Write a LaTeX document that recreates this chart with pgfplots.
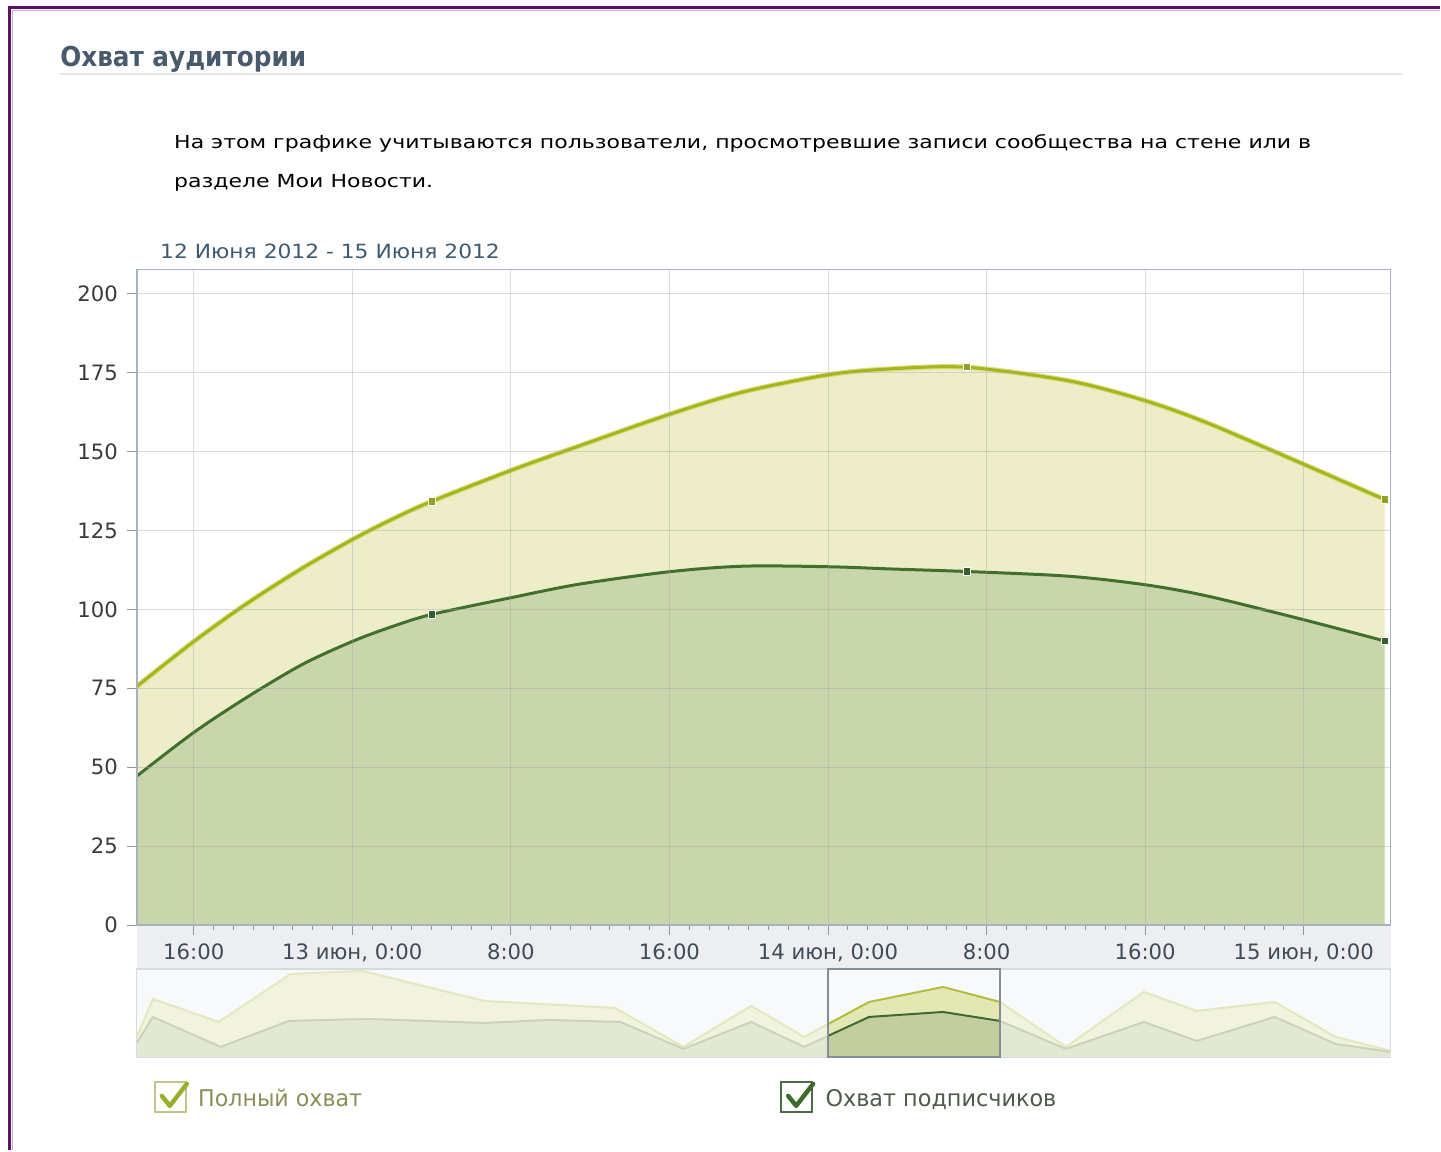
\documentclass[border=0pt]{standalone}
\usepackage{pgfplots}
\pgfplotsset{compat=1.18}
\usepackage{pgfplotstable}
\usepackage{graphicx}
\usepackage{fontspec}
\setmainfont{DejaVu Sans}

\definecolor{uline}{HTML}{A5B51F}
\definecolor{uglow}{HTML}{D9E07A}
\definecolor{ufill}{HTML}{EDEEC9}
\definecolor{lline}{HTML}{41702D}
\definecolor{lfill}{HTML}{C9D5AA}
\definecolor{umark}{HTML}{8FA224}
\definecolor{lmark}{HTML}{35602A}
\definecolor{axisc}{HTML}{A6B2BE}
\definecolor{tickc}{HTML}{8E969E}
\definecolor{ylab}{HTML}{3A3A3A}
\definecolor{xlab}{HTML}{3F4B57}
\definecolor{band}{HTML}{ECEEF1}
\definecolor{navbg}{HTML}{F8F9FA}
\definecolor{navbd}{HTML}{D6DBE0}
\definecolor{nuf}{HTML}{F1F3DE}
\definecolor{nul}{HTML}{E4E8BE}
\definecolor{nlf}{HTML}{E3E8D5}
\definecolor{nll}{HTML}{CBD4B9}
\definecolor{suf}{HTML}{E3E7B4}
\definecolor{sul}{HTML}{B0BE3F}
\definecolor{slf}{HTML}{C2CE9F}
\definecolor{sll}{HTML}{3F6A2D}
\definecolor{selbd}{HTML}{858E97}
\definecolor{titlec}{HTML}{485A6C}
\definecolor{datec}{HTML}{3E5B73}
\definecolor{purp}{HTML}{5C1363}
\definecolor{purpl}{HTML}{C9A9CD}
\definecolor{rule}{HTML}{E3E6E9}
\definecolor{leg1}{HTML}{8C8E5A}
\definecolor{leg2}{HTML}{4F5A4A}
\definecolor{box1}{HTML}{C3C48C}
\definecolor{chk1}{HTML}{9AAE2C}
\definecolor{box2}{HTML}{4D6B48}
\definecolor{chk2}{HTML}{3E6B2B}

\pgfplotstableread{
h u l
13.13 75.6 47.2
16 89.8 61.0
18.67 101.8 72.1
21.49 113.1 82.6
24.06 122.3 90.0
26.03 128.6 94.6
28 134.2 98.4
32.08 144.2 103.8
35.46 151.8 108.0
40.1 162.0 112.0
43.8 169.0 113.7
48.1 174.4 113.5
51.2 176.2 112.8
55 176.7 112.0
60.15 172.4 110.5
64 166.1 107.8
67.16 159.0 104.2
71.95 146.1 96.8
76.08 134.8 90.0
}\maindata

\pgfplotstableread{
x y
0 20
16 58
82 35
154 83
226 86
348 56
479 49
547 10
615 51
668 20
733 55
807 70
864 55
930 10
1008 65
1061 46
1139 55
1200 20
1255 6
}\navu

\pgfplotstableread{
x y
0 14
16 40
84 10
152 36
230 38
348 34
412 37
484 35
547 8
615 35
668 10
733 40
807 45
864 36
930 8
1008 35
1061 16
1139 40
1200 13
1255 5
}\navl

\newsavebox\descA
\newsavebox\descB
\newlength\dl

\begin{document}%
\sbox\descA{\fontsize{9}{11}\selectfont На этом графике учитываются пользователи, просмотревшие записи сообщества на стене или в}%
\sbox\descB{\fontsize{9}{11}\selectfont разделе Мои Новости.}%
\setlength\dl{\wd\descA}%
\pgfmathsetmacro\dr{569pt/\dl}%
\begin{tikzpicture}
\begin{scope}[x=0.5pt,y=-0.5pt]
  \path[fill=white] (0,0) rectangle (1441,1151);
  % frame
  \draw[line width=1.5pt, purp] (10,1151) -- (10,8) -- (1441,8);
  \draw[line width=0.5pt, purpl] (12.5,1151) -- (12.5,10.5) -- (1441,10.5);
  % title
  \node[anchor=base west, inner sep=0pt, text=titlec] at (60,67)
    {\resizebox{123pt}{\height}{\fontsize{13.7}{16}\selectfont\bfseries Охват аудитории}};
  \draw[line width=1pt, rule] (60,74) -- (1403,74);
  % description
  \node[anchor=base west, inner sep=0pt] at (174,149) {\scalebox{\dr}[1]{\usebox\descA}};
  \node[anchor=base west, inner sep=0pt] at (174,188) {\scalebox{\dr}[1]{\usebox\descB}};
  % date
  \node[anchor=base west, inner sep=0pt, text=datec] at (160,259)
    {\resizebox{170pt}{\height}{\fontsize{9.8}{12}\selectfont 12 Июня 2012 - 15 Июня 2012}};
  % tick band
  \fill[band] (137,926) rectangle (1392,970);
  % legend
  \draw[line width=1pt, box1] (155,1083) rectangle (186,1113);
  \draw[line width=2.2pt, chk1, line cap=round, line join=round] (162,1097) -- (170,1107) -- (187,1085);
  \node[anchor=base west, inner sep=0pt, text=leg1] at (198,1108)
    {\resizebox{82pt}{\height}{\fontsize{11.5}{13}\selectfont Полный охват}};
  \draw[line width=1pt, box2] (782,1083) rectangle (813,1113);
  \draw[line width=2.2pt, chk2, line cap=round, line join=round] (789,1097) -- (797,1107) -- (814,1085);
  \node[anchor=base west, inner sep=0pt, text=leg2] at (826,1108)
    {\resizebox{115.5pt}{\height}{\fontsize{11.5}{13}\selectfont Охват подписчиков}};
\end{scope}

% main chart
\begin{axis}[
  at={(68.5pt,-463pt)}, anchor=south west,
  scale only axis, width=627.5pt, height=328pt,
  xmin=13.13, xmax=76.38, ymin=0, ymax=207.6,
  xtick={16,24,32,40,48,56,64,72},
  xticklabels={16:00,{13 июн, 0:00},8:00,16:00,{14 июн, 0:00},8:00,16:00,{15 июн, 0:00}},
  minor x tick num=7,
  ytick={0,25,...,200},
  xtick pos=left, ytick pos=left,
  grid=major,
  grid style={draw=black!35, opacity=0.4, line width=0.5pt},
  axis on top,
  axis line style={draw=axisc, line width=0.7pt},
  tick align=outside,
  major tick length=5pt, minor tick length=2.5pt,
  tick style={draw=tickc, line width=0.5pt},
  /pgf/number format/assume math mode=true,
  yticklabel style={font=\fontsize{10.6}{12}\selectfont, text=ylab, xshift=-1pt},
  xticklabel style={font=\fontsize{10.6}{12}\selectfont, text=xlab, yshift=-1pt},
  clip mode=individual,
]
\addplot[fill=ufill, draw=none, smooth] table[x=h,y=u]{\maindata} \closedcycle;
\addplot[fill=lfill, draw=none, smooth] table[x=h,y=l]{\maindata} \closedcycle;
\addplot[draw=uglow, line width=2.6pt, smooth] table[x=h,y=u]{\maindata};
\addplot[draw=uline, line width=1.5pt, smooth] table[x=h,y=u]{\maindata};
\addplot[draw=lline, line width=1.5pt, smooth] table[x=h,y=l]{\maindata};
\addplot[only marks, mark=square*, mark size=1.8pt, mark options={fill=umark, draw=white, line width=0.5pt}]
  coordinates {(28,134.2) (55,176.7) (76.08,134.8)};
\addplot[only marks, mark=square*, mark size=1.8pt, mark options={fill=lmark, draw=white, line width=0.5pt}]
  coordinates {(28,98.4) (55,112) (76.08,90)};
\end{axis}

% navigator
\begin{axis}[
  at={(68.5pt,-529pt)}, anchor=south west,
  scale only axis, width=627.5pt, height=44pt,
  xmin=0, xmax=1255, ymin=0, ymax=88,
  ticks=none,
  axis line style={draw=navbd, line width=0.6pt},
  axis background/.style={fill=navbg},
]
\addplot[fill=nuf, draw=none] table[x=x,y=y]{\navu} \closedcycle;
\addplot[fill=nlf, draw=none] table[x=x,y=y]{\navl} \closedcycle;
\addplot[draw=nul, line width=1pt] table[x=x,y=y]{\navu};
\addplot[draw=nll, line width=1pt] table[x=x,y=y]{\navl};
\end{axis}

% navigator selection
\begin{axis}[
  at={(414.5pt,-529pt)}, anchor=south west,
  scale only axis, width=86pt, height=44pt,
  xmin=692, xmax=864, ymin=0, ymax=88,
  ticks=none,
  axis on top,
  axis line style={draw=selbd, line width=0.7pt},
  axis background/.style={fill=navbg},
]
\addplot[fill=suf, draw=none] table[x=x,y=y]{\navu} \closedcycle;
\addplot[fill=slf, draw=none] table[x=x,y=y]{\navl} \closedcycle;
\addplot[draw=sul, line width=1pt] table[x=x,y=y]{\navu};
\addplot[draw=sll, line width=1pt] table[x=x,y=y]{\navl};
\end{axis}
\end{tikzpicture}%
\end{document}
